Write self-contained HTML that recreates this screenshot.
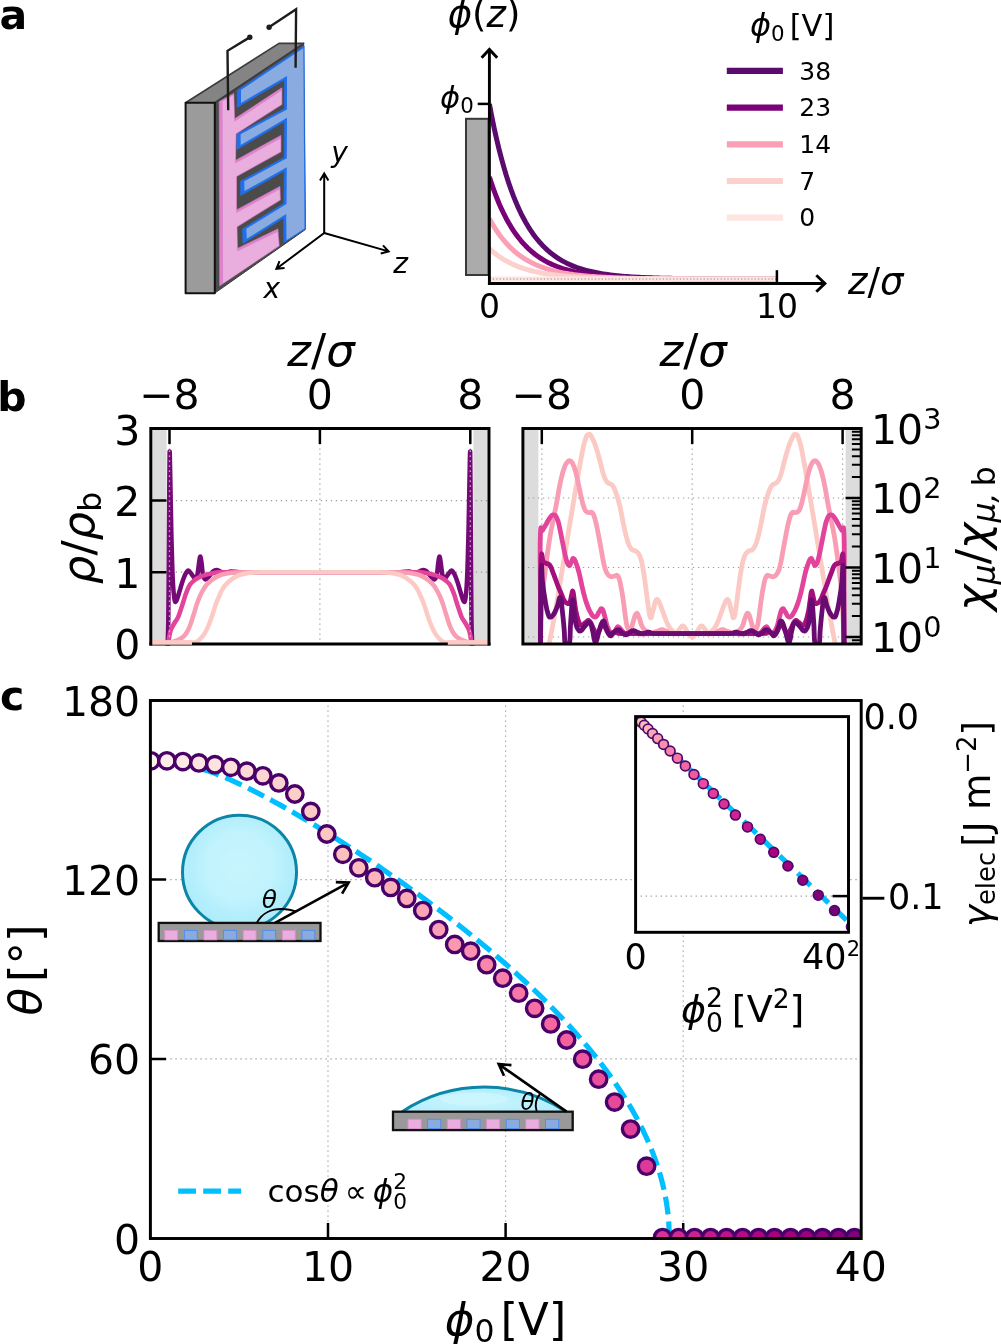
<!DOCTYPE html>
<html><head><meta charset="utf-8"><title>Electrowetting figure</title>
<style>
html,body{margin:0;padding:0;background:#fff;}
svg{display:block;font-family:'DejaVu Sans', 'Liberation Sans', sans-serif;}
svg text{fill:#000;}
</style></head><body>
<svg width="1001" height="1344" viewBox="0 0 1001 1344">
<rect x="0" y="0" width="1001" height="1344" fill="#ffffff"/>
<text x="-0.40" y="29.00" font-size="41" text-anchor="start" font-weight="bold">a</text>
<g stroke-linejoin="round">
<path d="M214.80,102.80L303.60,43.00L305.40,229.50L214.80,293.10Z" fill="#4b4b4b" stroke="#3a3a3a" stroke-width="1.0"/>
<path d="M237.20,90.40L304.20,45.80L305.40,228.90L283.90,242.50L283.60,217.90L243.00,243.40L242.50,228.90L283.90,203.50L284.20,170.90L240.70,195.50L240.50,181.20L284.20,157.50L284.40,121.50L236.90,149.60L236.80,134.20L284.40,108.80L284.40,79.80L237.20,107.40L237.20,90.40Z" fill="#2070ee" stroke="#2070ee" stroke-width="0.6"/>
<path d="M241.00,89.97L303.30,48.30L304.50,228.60L286.50,240.26L286.20,213.97L246.80,238.71L246.30,228.67L286.50,204.00L286.80,167.13L244.50,191.05L244.30,181.24L286.80,158.19L287.00,117.66L240.70,145.05L240.60,134.27L287.00,109.51L287.00,75.98L241.00,102.88Z" fill="#8aabe0"/>
<path d="M219.20,101.60L233.80,93.60L234.60,118.80L281.90,87.80L281.90,104.50L236.00,133.90L235.50,160.40L280.90,135.40L280.90,151.90L236.50,176.50L236.50,209.90L279.90,186.50L280.40,200.00L237.00,226.90L237.50,248.40L277.90,228.90L279.20,245.90L219.70,285.80Z" fill="#dd83cc" stroke="#dd83cc" stroke-width="0.6"/>
<path d="M222.60,101.34L233.50,95.20L234.30,121.80L281.50,90.80L281.50,104.20L235.70,133.60L235.20,163.40L280.50,138.40L280.50,151.60L236.20,176.20L236.20,212.90L279.50,189.50L280.00,199.70L236.70,226.60L237.20,251.40L277.50,231.90L278.80,245.60L223.10,283.20Z" fill="#e9aedd"/>
<path d="M185.60,102.80L279.00,43.40L303.60,43.40L214.80,102.80Z" fill="#848484" stroke="#3c3c3c" stroke-width="1.7"/>
<path d="M185.60,102.80L214.80,102.80L214.80,293.20L185.60,293.20Z" fill="#9b9b9b" stroke="#111" stroke-width="2.0"/>
</g>
<g stroke="#1c1c1c" stroke-width="2.4" fill="none" stroke-linejoin="miter">
<path d="M228.2,110.3 L227.5,50.8 L249.6,37.4"/>
<path d="M295.6,67.8 L296.1,9.2 L269.3,27"/>
</g>
<circle cx="249.8" cy="37.3" r="2.7" fill="#1c1c1c"/><circle cx="269.1" cy="27.2" r="2.7" fill="#1c1c1c"/>
<path d="M324.20,233.00L324.20,173.50M320.00,180.50L324.20,173.50L328.40,180.50" stroke="#000" stroke-width="2.0" fill="none" stroke-linejoin="miter" stroke-linecap="butt"/>
<path d="M324.20,233.00L388.60,251.40M383.02,245.44L388.60,251.40L380.72,253.52" stroke="#000" stroke-width="2.0" fill="none" stroke-linejoin="miter" stroke-linecap="butt"/>
<path d="M324.20,233.00L276.40,268.80M284.52,267.97L276.40,268.80L279.49,261.24" stroke="#000" stroke-width="2.0" fill="none" stroke-linejoin="miter" stroke-linecap="butt"/>
<text x="339.50" y="162.00" font-size="28" text-anchor="middle" font-style="italic">y</text>
<text x="400.50" y="273.00" font-size="28" text-anchor="middle" font-style="italic">z</text>
<text x="271.70" y="298.00" font-size="28" text-anchor="middle" font-style="italic">x</text>
<rect x="466" y="118.8" width="22.6" height="156.2" fill="#ababab" stroke="#383838" stroke-width="2"/>
<clipPath id="clipA"><rect x="488.79999999999995" y="90" width="320" height="200"/></clipPath>
<path d="M489.40,104.00L491.82,116.65L494.23,128.39L496.65,139.27L499.06,149.37L501.48,158.74L503.90,167.44L506.31,175.50L508.73,182.98L511.14,189.92L513.56,196.36L515.98,202.33L518.39,207.88L520.81,213.02L523.22,217.79L525.64,222.21L528.06,226.32L530.47,230.12L532.89,233.66L535.30,236.94L537.72,239.98L540.14,242.80L542.55,245.41L544.97,247.84L547.38,250.09L549.80,252.18L552.22,254.12L554.63,255.92L557.05,257.59L559.46,259.14L561.88,260.57L564.29,261.90L566.71,263.14L569.13,264.29L571.54,265.35L573.96,266.34L576.37,267.25L578.79,268.10L581.21,268.89L583.62,269.62L586.04,270.30L588.45,270.93L590.87,271.51L593.29,272.05L595.70,272.55L598.12,273.02L600.53,273.45L602.95,273.85L605.37,274.23L607.78,274.57L610.20,274.89L612.61,275.19L615.03,275.46L617.45,275.72L619.86,275.96L622.28,276.18L624.69,276.38L627.11,276.57L629.53,276.75L631.94,276.91L634.36,277.06L636.77,277.20L639.19,277.33L641.61,277.45L644.02,277.56L646.44,277.67L648.85,277.76L651.27,277.85L653.69,277.94L656.10,278.01L658.52,278.08L660.93,278.15L663.35,278.21L665.77,278.27L668.18,278.32L670.60,278.37L673.01,278.42L675.43,278.46L677.85,278.50L680.26,278.53L682.68,278.57L685.09,278.60L687.51,278.63L689.93,278.65L692.34,278.68L694.76,278.70L697.17,278.72L699.59,278.74L702.01,278.76L704.42,278.78L706.84,278.80L709.25,278.81L711.67,278.82L714.08,278.84L716.50,278.85L718.92,278.86L721.33,278.87L723.75,278.88L726.16,278.89L728.58,278.90L731.00,278.90L733.41,278.91L735.83,278.92L738.24,278.92L740.66,278.93L743.08,278.93L745.49,278.94L747.91,278.94L750.32,278.95L752.74,278.95L755.16,278.95L757.57,278.96L759.99,278.96L762.40,278.96L764.82,278.97L767.24,278.97L769.65,278.97L772.07,278.97L774.48,278.97L776.90,278.98" fill="none" stroke="#5b0a6e" stroke-width="5" stroke-linejoin="round" clip-path="url(#clipA)"/>
<path d="M489.40,177.00L491.82,184.37L494.23,191.21L496.65,197.56L499.06,203.45L501.48,208.91L503.90,213.97L506.31,218.67L508.73,223.03L511.14,227.08L513.56,230.83L515.98,234.31L518.39,237.54L520.81,240.54L523.22,243.32L525.64,245.90L528.06,248.29L530.47,250.51L532.89,252.57L535.30,254.48L537.72,256.25L540.14,257.90L542.55,259.42L544.97,260.84L547.38,262.15L549.80,263.37L552.22,264.50L554.63,265.55L557.05,266.52L559.46,267.42L561.88,268.26L564.29,269.04L566.71,269.76L569.13,270.42L571.54,271.04L573.96,271.62L576.37,272.15L578.79,272.65L581.21,273.11L583.62,273.53L586.04,273.93L588.45,274.29L590.87,274.63L593.29,274.95L595.70,275.24L598.12,275.51L600.53,275.77L602.95,276.00L605.37,276.22L607.78,276.42L610.20,276.60L612.61,276.78L615.03,276.94L617.45,277.09L619.86,277.23L622.28,277.35L624.69,277.47L627.11,277.58L629.53,277.69L631.94,277.78L634.36,277.87L636.77,277.95L639.19,278.03L641.61,278.10L644.02,278.16L646.44,278.22L648.85,278.28L651.27,278.33L653.69,278.38L656.10,278.42L658.52,278.47L660.93,278.50L663.35,278.54L665.77,278.57L668.18,278.60L670.60,278.63L673.01,278.66L675.43,278.68L677.85,278.71L680.26,278.73L682.68,278.75L685.09,278.77L687.51,278.78L689.93,278.80L692.34,278.81L694.76,278.83L697.17,278.84L699.59,278.85L702.01,278.86L704.42,278.87L706.84,278.88L709.25,278.89L711.67,278.90L714.08,278.90L716.50,278.91L718.92,278.92L721.33,278.92L723.75,278.93L726.16,278.93L728.58,278.94L731.00,278.94L733.41,278.95L735.83,278.95L738.24,278.96L740.66,278.96L743.08,278.96L745.49,278.96L747.91,278.97L750.32,278.97L752.74,278.97L755.16,278.97L757.57,278.98L759.99,278.98L762.40,278.98L764.82,278.98L767.24,278.98L769.65,278.98L772.07,278.98L774.48,278.99L776.90,278.99" fill="none" stroke="#7a0177" stroke-width="5" stroke-linejoin="round" clip-path="url(#clipA)"/>
<path d="M489.40,218.60L491.82,222.97L494.23,227.02L496.65,230.77L499.06,234.26L501.48,237.49L503.90,240.49L506.31,243.28L508.73,245.86L511.14,248.26L513.56,250.48L515.98,252.54L518.39,254.45L520.81,256.23L523.22,257.87L525.64,259.40L528.06,260.82L530.47,262.13L532.89,263.35L535.30,264.48L537.72,265.53L540.14,266.50L542.55,267.41L544.97,268.25L547.38,269.02L549.80,269.74L552.22,270.41L554.63,271.03L557.05,271.61L559.46,272.14L561.88,272.64L564.29,273.10L566.71,273.53L569.13,273.92L571.54,274.29L573.96,274.63L576.37,274.95L578.79,275.24L581.21,275.51L583.62,275.76L586.04,276.00L588.45,276.21L590.87,276.41L593.29,276.60L595.70,276.78L598.12,276.94L600.53,277.09L602.95,277.22L605.37,277.35L607.78,277.47L610.20,277.58L612.61,277.68L615.03,277.78L617.45,277.87L619.86,277.95L622.28,278.03L624.69,278.10L627.11,278.16L629.53,278.22L631.94,278.28L634.36,278.33L636.77,278.38L639.19,278.42L641.61,278.47L644.02,278.50L646.44,278.54L648.85,278.57L651.27,278.60L653.69,278.63L656.10,278.66L658.52,278.68L660.93,278.71L663.35,278.73L665.77,278.75L668.18,278.77L670.60,278.78L673.01,278.80L675.43,278.81L677.85,278.83L680.26,278.84L682.68,278.85L685.09,278.86L687.51,278.87L689.93,278.88L692.34,278.89L694.76,278.90L697.17,278.90L699.59,278.91L702.01,278.92L704.42,278.92L706.84,278.93L709.25,278.93L711.67,278.94L714.08,278.94L716.50,278.95L718.92,278.95L721.33,278.96L723.75,278.96L726.16,278.96L728.58,278.96L731.00,278.97L733.41,278.97L735.83,278.97L738.24,278.97L740.66,278.98L743.08,278.98L745.49,278.98L747.91,278.98L750.32,278.98L752.74,278.98L755.16,278.98L757.57,278.99L759.99,278.99L762.40,278.99L764.82,278.99L767.24,278.99L769.65,278.99L772.07,278.99L774.48,278.99L776.90,278.99" fill="none" stroke="#fa9fb5" stroke-width="5" stroke-linejoin="round" clip-path="url(#clipA)"/>
<path d="M489.40,248.60L491.82,250.80L494.23,252.84L496.65,254.73L499.06,256.48L501.48,258.11L503.90,259.62L506.31,261.02L508.73,262.32L511.14,263.53L513.56,264.64L515.98,265.68L518.39,266.64L520.81,267.54L523.22,268.37L525.64,269.14L528.06,269.85L530.47,270.51L532.89,271.12L535.30,271.69L537.72,272.22L540.14,272.71L542.55,273.17L544.97,273.59L547.38,273.98L549.80,274.34L552.22,274.68L554.63,274.99L557.05,275.28L559.46,275.55L561.88,275.80L564.29,276.03L566.71,276.24L569.13,276.44L571.54,276.63L573.96,276.80L576.37,276.96L578.79,277.11L581.21,277.24L583.62,277.37L586.04,277.49L588.45,277.60L590.87,277.70L593.29,277.79L595.70,277.88L598.12,277.96L600.53,278.04L602.95,278.11L605.37,278.17L607.78,278.23L610.20,278.29L612.61,278.34L615.03,278.39L617.45,278.43L619.86,278.47L622.28,278.51L624.69,278.54L627.11,278.58L629.53,278.61L631.94,278.64L634.36,278.66L636.77,278.69L639.19,278.71L641.61,278.73L644.02,278.75L646.44,278.77L648.85,278.79L651.27,278.80L653.69,278.82L656.10,278.83L658.52,278.84L660.93,278.85L663.35,278.86L665.77,278.87L668.18,278.88L670.60,278.89L673.01,278.90L675.43,278.91L677.85,278.91L680.26,278.92L682.68,278.92L685.09,278.93L687.51,278.94L689.93,278.94L692.34,278.94L694.76,278.95L697.17,278.95L699.59,278.96L702.01,278.96L704.42,278.96L706.84,278.96L709.25,278.97L711.67,278.97L714.08,278.97L716.50,278.97L718.92,278.98L721.33,278.98L723.75,278.98L726.16,278.98L728.58,278.98L731.00,278.98L733.41,278.98L735.83,278.99L738.24,278.99L740.66,278.99L743.08,278.99L745.49,278.99L747.91,278.99L750.32,278.99L752.74,278.99L755.16,278.99L757.57,278.99L759.99,278.99L762.40,278.99L764.82,278.99L767.24,278.99L769.65,278.99L772.07,279.00L774.48,279.00L776.90,279.00" fill="none" stroke="#fcd0cc" stroke-width="5" stroke-linejoin="round" clip-path="url(#clipA)"/>
<path d="M489.40,279.00L491.82,279.00L494.23,279.00L496.65,279.00L499.06,279.00L501.48,279.00L503.90,279.00L506.31,279.00L508.73,279.00L511.14,279.00L513.56,279.00L515.98,279.00L518.39,279.00L520.81,279.00L523.22,279.00L525.64,279.00L528.06,279.00L530.47,279.00L532.89,279.00L535.30,279.00L537.72,279.00L540.14,279.00L542.55,279.00L544.97,279.00L547.38,279.00L549.80,279.00L552.22,279.00L554.63,279.00L557.05,279.00L559.46,279.00L561.88,279.00L564.29,279.00L566.71,279.00L569.13,279.00L571.54,279.00L573.96,279.00L576.37,279.00L578.79,279.00L581.21,279.00L583.62,279.00L586.04,279.00L588.45,279.00L590.87,279.00L593.29,279.00L595.70,279.00L598.12,279.00L600.53,279.00L602.95,279.00L605.37,279.00L607.78,279.00L610.20,279.00L612.61,279.00L615.03,279.00L617.45,279.00L619.86,279.00L622.28,279.00L624.69,279.00L627.11,279.00L629.53,279.00L631.94,279.00L634.36,279.00L636.77,279.00L639.19,279.00L641.61,279.00L644.02,279.00L646.44,279.00L648.85,279.00L651.27,279.00L653.69,279.00L656.10,279.00L658.52,279.00L660.93,279.00L663.35,279.00L665.77,279.00L668.18,279.00L670.60,279.00L673.01,279.00L675.43,279.00L677.85,279.00L680.26,279.00L682.68,279.00L685.09,279.00L687.51,279.00L689.93,279.00L692.34,279.00L694.76,279.00L697.17,279.00L699.59,279.00L702.01,279.00L704.42,279.00L706.84,279.00L709.25,279.00L711.67,279.00L714.08,279.00L716.50,279.00L718.92,279.00L721.33,279.00L723.75,279.00L726.16,279.00L728.58,279.00L731.00,279.00L733.41,279.00L735.83,279.00L738.24,279.00L740.66,279.00L743.08,279.00L745.49,279.00L747.91,279.00L750.32,279.00L752.74,279.00L755.16,279.00L757.57,279.00L759.99,279.00L762.40,279.00L764.82,279.00L767.24,279.00L769.65,279.00L772.07,279.00L774.48,279.00L776.90,279.00" fill="none" stroke="#fde5e1" stroke-width="5" stroke-linejoin="round" clip-path="url(#clipA)"/>
<path d="M489.4,279.0L776.9,279.0" stroke="#b9a9ad" stroke-width="1.3" stroke-dasharray="1.3,2.1" fill="none"/>
<path d="M489.40,284.90L489.40,49.40M481.60,57.70L489.40,49.40L497.20,57.70" stroke="#000" stroke-width="2.9" fill="none" stroke-linejoin="miter" stroke-linecap="butt"/>
<path d="M487.95,283.50L824.90,283.50M816.30,275.30L824.90,283.50L816.30,291.70" stroke="#000" stroke-width="2.9" fill="none" stroke-linejoin="miter" stroke-linecap="butt"/>
<path d="M477.7,103.9L489.4,103.9" stroke="#000" stroke-width="2.5"/>
<path d="M776.90,283.5L776.90,270.2" stroke="#000" stroke-width="2.5"/>
<text x="489.40" y="317.50" font-size="33" text-anchor="middle" >0</text>
<text x="776.90" y="317.50" font-size="33" text-anchor="middle" >10</text>
<text x="848.00" y="294.00" font-size="37" text-anchor="start" ><tspan font-style="italic">z</tspan>/<tspan font-style="italic">σ</tspan></text>
<text x="484.00" y="27.00" font-size="37" text-anchor="middle" ><tspan font-style="italic">ϕ</tspan>(<tspan font-style="italic">z</tspan>)</text>
<text x="440.00" y="108.20" font-size="30.5" text-anchor="start" ><tspan font-style="italic">ϕ</tspan><tspan font-size="21.35" dy="4.30">0</tspan><tspan dy="-4.30" font-size="30.5">&#8203;</tspan></text>
<text x="750.00" y="35.80" font-size="30.5" text-anchor="start" ><tspan font-style="italic" font-size="32">ϕ</tspan><tspan font-size="21.35" dy="4.88">0</tspan><tspan dy="-4.88" font-size="30.5">&#8203;</tspan><tspan dx="5">[V]</tspan></text>
<path d="M726.8,70.90L782.9,70.90" stroke="#5b0a6e" stroke-width="6.2"/>
<text x="799.30" y="79.60" font-size="25" text-anchor="start" >38</text>
<path d="M726.8,107.60L782.9,107.60" stroke="#7a0177" stroke-width="6.2"/>
<text x="799.30" y="116.30" font-size="25" text-anchor="start" >23</text>
<path d="M726.8,144.30L782.9,144.30" stroke="#fa9fb5" stroke-width="6.2"/>
<text x="799.30" y="153.00" font-size="25" text-anchor="start" >14</text>
<path d="M726.8,181.00L782.9,181.00" stroke="#fcd0cc" stroke-width="6.2"/>
<text x="799.30" y="189.70" font-size="25" text-anchor="start" >7</text>
<path d="M726.8,217.70L782.9,217.70" stroke="#fde5e1" stroke-width="6.2"/>
<text x="799.30" y="226.40" font-size="25" text-anchor="start" >0</text>
<text x="-2.70" y="410.60" font-size="41" text-anchor="start" font-weight="bold">b</text>
<clipPath id="clipBL"><rect x="150.8" y="428.5" width="338.2" height="217.0"/></clipPath>
<rect x="150.8" y="428.5" width="15.799999999999983" height="215.5" fill="#dcdcdc"/>
<rect x="473.4" y="428.5" width="15.600000000000023" height="215.5" fill="#dcdcdc"/>
<path d="M169.50,428.5L169.50,644.0" stroke="#9c9c9c" stroke-width="1.2" stroke-dasharray="1.3,3.7" fill="none"/>
<path d="M319.90,428.5L319.90,644.0" stroke="#9c9c9c" stroke-width="1.2" stroke-dasharray="1.3,3.7" fill="none"/>
<path d="M470.30,428.5L470.30,644.0" stroke="#9c9c9c" stroke-width="1.2" stroke-dasharray="1.3,3.7" fill="none"/>
<path d="M150.8,572.20L489.0,572.20" stroke="#9c9c9c" stroke-width="1.2" stroke-dasharray="1.3,3.7" fill="none"/>
<path d="M150.8,500.60L489.0,500.60" stroke="#9c9c9c" stroke-width="1.2" stroke-dasharray="1.3,3.7" fill="none"/>
<g clip-path="url(#clipBL)" fill="none" stroke-linejoin="round" stroke-linecap="butt">
<path d="M167.60,646.00C167.72,641.67 168.10,634.33 168.30,620.00C168.50,605.67 168.65,580.00 168.80,560.00C168.95,540.00 169.07,518.00 169.20,500.00C169.33,482.00 169.42,455.67 169.60,452.00C169.78,448.33 170.00,464.17 170.30,478.00C170.60,491.83 170.98,518.00 171.40,535.00C171.82,552.00 172.27,569.17 172.80,580.00C173.33,590.83 173.98,596.58 174.60,600.00C175.22,603.42 175.77,601.67 176.50,600.50C177.23,599.33 178.08,595.92 179.00,593.00C179.92,590.08 181.00,586.00 182.00,583.00C183.00,580.00 183.97,577.08 185.00,575.00C186.03,572.92 187.12,570.67 188.20,570.50C189.28,570.33 190.40,572.67 191.50,574.00C192.60,575.33 193.83,578.33 194.80,578.50C195.77,578.67 196.60,577.58 197.30,575.00C198.00,572.42 198.50,566.08 199.00,563.00C199.50,559.92 199.87,556.50 200.30,556.50C200.73,556.50 201.15,559.92 201.60,563.00C202.05,566.08 202.35,572.25 203.00,575.00C203.65,577.75 204.50,579.25 205.50,579.50C206.50,579.75 207.75,577.83 209.00,576.50C210.25,575.17 211.75,572.58 213.00,571.50C214.25,570.42 215.25,570.00 216.50,570.00C217.75,570.00 219.08,571.00 220.50,571.50C221.92,572.00 223.25,572.98 225.00,573.00C226.75,573.02 228.50,571.72 231.00,571.60C233.50,571.48 235.17,572.18 240.00,572.30C244.83,572.42 246.68,572.30 260.00,572.30C273.32,572.30 309.92,572.30 319.90,572.30C329.88,572.30 309.92,572.30 319.90,572.30C329.88,572.30 366.48,572.30 379.80,572.30C393.12,572.30 394.97,572.42 399.80,572.30C404.63,572.18 406.30,571.48 408.80,571.60C411.30,571.72 413.05,573.02 414.80,573.00C416.55,572.98 417.88,572.00 419.30,571.50C420.72,571.00 422.05,570.00 423.30,570.00C424.55,570.00 425.55,570.42 426.80,571.50C428.05,572.58 429.55,575.17 430.80,576.50C432.05,577.83 433.30,579.75 434.30,579.50C435.30,579.25 436.15,577.75 436.80,575.00C437.45,572.25 437.75,566.08 438.20,563.00C438.65,559.92 439.07,556.50 439.50,556.50C439.93,556.50 440.30,559.92 440.80,563.00C441.30,566.08 441.80,572.42 442.50,575.00C443.20,577.58 444.03,578.67 445.00,578.50C445.97,578.33 447.20,575.33 448.30,574.00C449.40,572.67 450.52,570.33 451.60,570.50C452.68,570.67 453.77,572.92 454.80,575.00C455.83,577.08 456.80,580.00 457.80,583.00C458.80,586.00 459.88,590.08 460.80,593.00C461.72,595.92 462.57,599.33 463.30,600.50C464.03,601.67 464.58,603.42 465.20,600.00C465.82,596.58 466.47,590.83 467.00,580.00C467.53,569.17 467.98,552.00 468.40,535.00C468.82,518.00 469.20,491.83 469.50,478.00C469.80,464.17 470.02,448.33 470.20,452.00C470.38,455.67 470.47,482.00 470.60,500.00C470.73,518.00 470.85,540.00 471.00,560.00C471.15,580.00 471.30,605.67 471.50,620.00C471.70,634.33 472.08,641.67 472.20,646.00" stroke="#750a76" stroke-width="4.5"/>
<path d="M167.80,646.00C167.93,645.17 168.27,643.00 168.60,641.00C168.93,639.00 169.35,636.03 169.80,634.00C170.25,631.97 170.52,630.63 171.30,628.80C172.08,626.97 173.38,624.90 174.50,623.00C175.62,621.10 176.75,620.23 178.00,617.40C179.25,614.57 180.73,609.80 182.00,606.00C183.27,602.20 184.60,597.52 185.60,594.60C186.60,591.68 187.22,590.23 188.00,588.50C188.78,586.77 189.38,585.45 190.30,584.20C191.22,582.95 192.40,581.95 193.50,581.00C194.60,580.05 195.65,579.25 196.90,578.50C198.15,577.75 199.42,577.13 201.00,576.50C202.58,575.87 204.57,575.22 206.40,574.70C208.23,574.18 209.78,573.80 212.00,573.40C214.22,573.00 216.52,572.48 219.70,572.30C222.88,572.12 224.38,572.30 231.10,572.30C237.82,572.30 245.20,572.30 260.00,572.30C274.80,572.30 309.92,572.30 319.90,572.30C329.88,572.30 309.92,572.30 319.90,572.30C329.88,572.30 365.00,572.30 379.80,572.30C394.60,572.30 401.98,572.30 408.70,572.30C415.42,572.30 416.92,572.12 420.10,572.30C423.28,572.48 425.58,573.00 427.80,573.40C430.02,573.80 431.57,574.18 433.40,574.70C435.23,575.22 437.22,575.87 438.80,576.50C440.38,577.13 441.65,577.75 442.90,578.50C444.15,579.25 445.20,580.05 446.30,581.00C447.40,581.95 448.58,582.95 449.50,584.20C450.42,585.45 451.02,586.77 451.80,588.50C452.58,590.23 453.20,591.68 454.20,594.60C455.20,597.52 456.53,602.20 457.80,606.00C459.07,609.80 460.55,614.57 461.80,617.40C463.05,620.23 464.18,621.10 465.30,623.00C466.42,624.90 467.72,626.97 468.50,628.80C469.28,630.63 469.55,631.97 470.00,634.00C470.45,636.03 470.87,639.00 471.20,641.00C471.53,643.00 471.87,645.17 472.00,646.00" stroke="#e2439b" stroke-width="4.5"/>
<path d="M148.80,642.80C152.00,642.80 163.77,643.05 168.00,642.80C172.23,642.55 172.37,641.85 174.20,641.30C176.03,640.75 177.42,640.32 179.00,639.50C180.58,638.68 182.37,637.65 183.70,636.40C185.03,635.15 185.90,633.90 187.00,632.00C188.10,630.10 189.22,627.83 190.30,625.00C191.38,622.17 192.40,618.48 193.50,615.00C194.60,611.52 195.85,607.18 196.90,604.10C197.95,601.02 198.85,598.72 199.80,596.50C200.75,594.28 201.57,592.63 202.60,590.80C203.63,588.97 204.73,587.08 206.00,585.50C207.27,583.92 208.62,582.63 210.20,581.30C211.78,579.97 213.60,578.60 215.50,577.50C217.40,576.40 219.52,575.42 221.60,574.70C223.68,573.98 225.78,573.57 228.00,573.20C230.22,572.83 232.07,572.65 234.90,572.50C237.73,572.35 239.15,572.33 245.00,572.30C250.85,572.27 257.52,572.30 270.00,572.30C282.48,572.30 311.58,572.30 319.90,572.30C328.22,572.30 311.58,572.30 319.90,572.30C328.22,572.30 357.32,572.30 369.80,572.30C382.28,572.30 388.95,572.27 394.80,572.30C400.65,572.33 402.07,572.35 404.90,572.50C407.73,572.65 409.58,572.83 411.80,573.20C414.02,573.57 416.12,573.98 418.20,574.70C420.28,575.42 422.40,576.40 424.30,577.50C426.20,578.60 428.02,579.97 429.60,581.30C431.18,582.63 432.53,583.92 433.80,585.50C435.07,587.08 436.17,588.97 437.20,590.80C438.23,592.63 439.05,594.28 440.00,596.50C440.95,598.72 441.85,601.02 442.90,604.10C443.95,607.18 445.20,611.52 446.30,615.00C447.40,618.48 448.42,622.17 449.50,625.00C450.58,627.83 451.70,630.10 452.80,632.00C453.90,633.90 454.77,635.15 456.10,636.40C457.43,637.65 459.22,638.68 460.80,639.50C462.38,640.32 463.77,640.75 465.60,641.30C467.43,641.85 467.57,642.55 471.80,642.80C476.03,643.05 487.80,642.80 491.00,642.80" stroke="#f99db4" stroke-width="4.5"/>
<path d="M148.80,642.60C155.67,642.60 181.97,642.78 190.00,642.60C198.03,642.42 194.90,642.53 197.00,641.50C199.10,640.47 201.02,638.32 202.60,636.40C204.18,634.48 205.23,632.53 206.50,630.00C207.77,627.47 209.12,624.03 210.20,621.20C211.28,618.37 212.05,615.85 213.00,613.00C213.95,610.15 214.93,606.77 215.90,604.10C216.87,601.43 217.85,599.22 218.80,597.00C219.75,594.78 220.57,592.72 221.60,590.80C222.63,588.88 223.73,587.08 225.00,585.50C226.27,583.92 227.62,582.63 229.20,581.30C230.78,579.97 232.60,578.60 234.50,577.50C236.40,576.40 238.52,575.42 240.60,574.70C242.68,573.98 244.78,573.57 247.00,573.20C249.22,572.83 251.40,572.65 253.90,572.50C256.40,572.35 255.98,572.33 262.00,572.30C268.02,572.27 280.35,572.30 290.00,572.30C299.65,572.30 314.92,572.30 319.90,572.30C324.88,572.30 314.92,572.30 319.90,572.30C324.88,572.30 340.15,572.30 349.80,572.30C359.45,572.30 371.78,572.27 377.80,572.30C383.82,572.33 383.40,572.35 385.90,572.50C388.40,572.65 390.58,572.83 392.80,573.20C395.02,573.57 397.12,573.98 399.20,574.70C401.28,575.42 403.40,576.40 405.30,577.50C407.20,578.60 409.02,579.97 410.60,581.30C412.18,582.63 413.53,583.92 414.80,585.50C416.07,587.08 417.17,588.88 418.20,590.80C419.23,592.72 420.05,594.78 421.00,597.00C421.95,599.22 422.93,601.43 423.90,604.10C424.87,606.77 425.85,610.15 426.80,613.00C427.75,615.85 428.52,618.37 429.60,621.20C430.68,624.03 432.03,627.47 433.30,630.00C434.57,632.53 435.62,634.48 437.20,636.40C438.78,638.32 440.70,640.47 442.80,641.50C444.90,642.53 441.77,642.42 449.80,642.60C457.83,642.78 484.13,642.60 491.00,642.60" stroke="#fccac5" stroke-width="4.5"/>
<path d="M169.50,450.48L169.50,644.0" stroke="#dccde0" stroke-width="1.3" stroke-dasharray="1.3,3.7" fill="none"/>
<path d="M470.30,450.48L470.30,644.0" stroke="#dccde0" stroke-width="1.3" stroke-dasharray="1.3,3.7" fill="none"/>
</g>
<path d="M150.8,644.0L489.0,644.0" stroke="#000" stroke-width="2.95" stroke-linecap="square"/>
<path d="M149.8,642.6L192,642.6M447.79999999999995,642.6L490.0,642.6" stroke="#fccac5" stroke-width="4.5"/>
<path d="M150.8,644.0L150.8,428.5L489.0,428.5L489.0,644.0" stroke="#000" stroke-width="2.95" fill="none" stroke-linecap="square"/>
<path d="M169.50,428.5L169.50,444.1M319.90,428.5L319.90,444.1M470.30,428.5L470.30,444.1M150.8,572.20L166.4,572.20M150.8,500.60L166.4,500.60" stroke="#000" stroke-width="2.5"/>
<text x="169.50" y="408.70" font-size="41" text-anchor="middle" >−8</text>
<text x="319.90" y="408.70" font-size="41" text-anchor="middle" >0</text>
<text x="470.30" y="408.70" font-size="41" text-anchor="middle" >8</text>
<text x="140.40" y="659.30" font-size="41" text-anchor="end" >0</text>
<text x="140.40" y="587.70" font-size="41" text-anchor="end" >1</text>
<text x="140.40" y="516.10" font-size="41" text-anchor="end" >2</text>
<text x="140.40" y="444.50" font-size="41" text-anchor="end" >3</text>
<text x="321.00" y="366.20" font-size="45" text-anchor="middle" ><tspan font-style="italic">z</tspan>/<tspan font-style="italic">σ</tspan></text>
<text transform="translate(93.6,538) rotate(-90)" font-size="45" text-anchor="middle"><tspan font-style="italic">ρ</tspan>/<tspan font-style="italic">ρ</tspan><tspan font-size="31.50" dy="7.20">b</tspan><tspan dy="-7.20" font-size="45">&#8203;</tspan></text>
<clipPath id="clipBR"><rect x="522.9" y="428.5" width="338.30000000000007" height="215.5"/></clipPath>
<rect x="522.9" y="428.5" width="15.5" height="215.5" fill="#dcdcdc"/>
<rect x="845.6" y="428.5" width="15.600000000000023" height="215.5" fill="#dcdcdc"/>
<path d="M541.80,428.5L541.80,644.0" stroke="#9c9c9c" stroke-width="1.2" stroke-dasharray="1.3,3.7" fill="none"/>
<path d="M692.20,428.5L692.20,644.0" stroke="#9c9c9c" stroke-width="1.2" stroke-dasharray="1.3,3.7" fill="none"/>
<path d="M842.60,428.5L842.60,644.0" stroke="#9c9c9c" stroke-width="1.2" stroke-dasharray="1.3,3.7" fill="none"/>
<path d="M522.9,637.00L861.2,637.00" stroke="#9c9c9c" stroke-width="1.2" stroke-dasharray="1.3,3.7" fill="none"/>
<path d="M522.9,567.50L861.2,567.50" stroke="#9c9c9c" stroke-width="1.2" stroke-dasharray="1.3,3.7" fill="none"/>
<path d="M522.9,498.00L861.2,498.00" stroke="#9c9c9c" stroke-width="1.2" stroke-dasharray="1.3,3.7" fill="none"/>
<g clip-path="url(#clipBR)" fill="none" stroke-linejoin="round">
<path d="M548.91,644.94C550.69,635.58 551.26,634.38 555.56,609.83C559.86,585.27 559.99,583.25 565.05,552.88C570.11,522.51 570.24,521.24 574.54,495.93C578.84,470.62 578.40,472.64 581.18,457.97C583.97,443.29 582.96,447.21 584.98,440.88C587.01,434.55 586.75,434.74 588.78,434.24C590.80,433.73 590.55,435.19 592.57,438.98C594.60,442.78 594.35,442.40 596.37,448.47C598.40,454.55 598.14,454.42 600.17,461.76C602.19,469.10 601.94,470.43 603.96,476.00C605.99,481.57 605.48,480.11 607.76,482.64C610.04,485.17 610.23,482.45 612.51,485.49C614.78,488.53 614.28,488.21 616.30,494.03C618.33,499.85 618.07,498.71 620.10,507.32C622.12,515.93 621.87,517.19 623.90,526.30C625.92,535.41 625.67,535.41 627.69,541.49C629.72,547.56 629.21,546.45 631.49,549.08C633.77,551.71 633.96,549.33 636.23,551.36C638.51,553.38 638.26,552.22 640.03,556.67C641.80,561.13 641.36,559.96 642.88,568.06C644.40,576.16 644.31,576.92 645.73,587.05C647.14,597.17 646.93,597.93 648.19,606.03C649.46,614.13 649.26,615.90 650.47,617.42C651.69,618.94 651.48,615.77 652.75,611.72C654.01,607.67 654.05,605.52 655.22,602.23C656.38,598.94 655.95,599.13 657.11,599.38C658.28,599.64 658.06,599.89 659.58,603.18C661.10,606.47 660.68,606.16 662.81,611.72C664.94,617.29 665.02,619.00 667.56,624.06C670.09,629.12 670.02,628.43 672.30,630.71C674.58,632.98 674.07,633.11 676.10,632.60C678.12,632.10 678.12,630.58 679.89,628.81C681.67,627.04 681.22,625.96 682.74,625.96C684.26,625.96 683.82,626.28 685.59,628.81C687.36,631.34 687.62,633.38 689.38,635.45C691.15,637.53 691.44,636.29 692.19,636.59C692.95,636.89 691.45,636.89 692.21,636.59C692.96,636.29 693.25,637.53 695.02,635.45C696.78,633.38 697.04,631.34 698.81,628.81C700.58,626.28 700.14,625.96 701.66,625.96C703.18,625.96 702.73,627.04 704.51,628.81C706.28,630.58 706.28,632.10 708.30,632.60C710.33,633.11 709.82,632.98 712.10,630.71C714.38,628.43 714.31,629.12 716.84,624.06C719.38,619.00 719.46,617.29 721.59,611.72C723.72,606.16 723.30,606.47 724.82,603.18C726.34,599.89 726.12,599.64 727.29,599.38C728.45,599.13 728.02,598.94 729.18,602.23C730.35,605.52 730.39,607.67 731.65,611.72C732.92,615.77 732.71,618.94 733.93,617.42C735.14,615.90 734.94,614.13 736.21,606.03C737.47,597.93 737.26,597.17 738.67,587.05C740.09,576.92 740.00,576.16 741.52,568.06C743.04,559.96 742.60,561.13 744.37,556.67C746.14,552.22 745.89,553.38 748.17,551.36C750.44,549.33 750.63,551.71 752.91,549.08C755.19,546.45 754.68,547.56 756.71,541.49C758.73,535.41 758.48,535.41 760.50,526.30C762.53,517.19 762.28,515.93 764.30,507.32C766.33,498.71 766.07,499.85 768.10,494.03C770.12,488.21 769.62,488.53 771.89,485.49C774.17,482.45 774.36,485.17 776.64,482.64C778.92,480.11 778.41,481.57 780.44,476.00C782.46,470.43 782.21,469.10 784.23,461.76C786.26,454.42 786.00,454.55 788.03,448.47C790.05,442.40 789.80,442.78 791.83,438.98C793.85,435.19 793.60,433.73 795.62,434.24C797.65,434.74 797.39,434.55 799.42,440.88C801.44,447.21 800.43,443.29 803.22,457.97C806.00,472.64 805.56,470.62 809.86,495.93C814.16,521.24 814.29,522.51 819.35,552.88C824.41,583.25 824.54,585.27 828.84,609.83C833.14,634.38 833.71,635.58 835.49,644.94" stroke="#fccac5" stroke-width="4.8"/>
<path d="M540.37,644.94C540.88,633.05 541.00,619.82 542.27,600.33C543.54,580.85 543.35,587.05 545.12,571.86C546.89,556.67 546.89,556.55 548.91,543.39C550.94,530.23 550.69,533.14 552.71,522.51C554.74,511.88 554.48,514.15 556.51,503.52C558.53,492.89 558.28,492.01 560.30,482.64C562.33,473.28 562.33,473.72 564.10,468.41C565.87,463.09 565.43,464.74 566.95,462.71C568.47,460.69 568.28,460.56 569.79,460.81C571.31,461.07 571.12,460.88 572.64,463.66C574.16,466.44 573.97,465.94 575.49,471.25C577.01,476.57 576.82,476.76 578.34,483.59C579.86,490.43 579.77,490.80 581.18,496.88C582.60,502.95 582.39,502.57 583.65,506.37C584.92,510.17 584.41,509.45 585.93,511.12C587.45,512.79 587.58,512.13 589.35,512.63C591.12,513.14 590.95,510.89 592.57,513.01C594.19,515.14 593.90,515.04 595.42,520.61C596.94,526.18 596.75,526.30 598.27,533.90C599.79,541.49 599.60,540.98 601.12,549.08C602.63,557.18 602.44,557.94 603.96,564.27C605.48,570.59 605.04,569.52 606.81,572.81C608.58,576.10 608.58,575.75 610.61,576.61C612.63,577.47 612.38,576.04 614.40,576.04C616.43,576.04 616.43,573.67 618.20,576.61C619.97,579.54 619.63,580.21 621.05,587.05C622.47,593.88 622.25,593.63 623.52,602.23C624.78,610.84 624.68,612.48 625.79,619.32C626.91,626.15 626.43,625.07 627.69,627.86C628.96,630.64 629.02,631.53 630.54,629.76C632.06,627.99 631.87,625.52 633.39,621.21C634.91,616.91 634.72,614.63 636.23,613.62C637.75,612.61 637.56,614.13 639.08,617.42C640.60,620.71 640.16,622.42 641.93,625.96C643.70,629.50 643.45,628.93 645.73,630.71C648.00,632.48 647.69,632.35 650.47,632.60C653.25,632.86 653.13,632.41 656.17,631.66C659.20,630.90 659.33,629.91 661.86,629.76C664.39,629.61 663.13,630.07 665.66,631.09C668.19,632.10 667.30,632.90 671.35,633.55C675.40,634.21 675.28,633.55 680.84,633.55C686.40,633.55 689.16,633.55 692.19,633.55C695.22,633.55 689.18,633.55 692.21,633.55C695.24,633.55 698.00,633.55 703.56,633.55C709.12,633.55 709.00,634.21 713.05,633.55C717.10,632.90 716.21,632.10 718.74,631.09C721.27,630.07 720.01,629.61 722.54,629.76C725.07,629.91 725.20,630.90 728.23,631.66C731.27,632.41 731.15,632.86 733.93,632.60C736.71,632.35 736.40,632.48 738.67,630.71C740.95,628.93 740.70,629.50 742.47,625.96C744.24,622.42 743.80,620.71 745.32,617.42C746.84,614.13 746.65,612.61 748.17,613.62C749.68,614.63 749.49,616.91 751.01,621.21C752.53,625.52 752.34,627.99 753.86,629.76C755.38,631.53 755.44,630.64 756.71,627.86C757.97,625.07 757.49,626.15 758.61,619.32C759.72,612.48 759.62,610.84 760.88,602.23C762.15,593.63 761.93,593.88 763.35,587.05C764.77,580.21 764.43,579.54 766.20,576.61C767.97,573.67 767.97,576.04 770.00,576.04C772.02,576.04 771.77,577.47 773.79,576.61C775.82,575.75 775.82,576.10 777.59,572.81C779.36,569.52 778.92,570.59 780.44,564.27C781.96,557.94 781.77,557.18 783.28,549.08C784.80,540.98 784.61,541.49 786.13,533.90C787.65,526.30 787.46,526.18 788.98,520.61C790.50,515.04 790.21,515.14 791.83,513.01C793.45,510.89 793.28,513.14 795.05,512.63C796.82,512.13 796.95,512.79 798.47,511.12C799.99,509.45 799.48,510.17 800.75,506.37C802.01,502.57 801.80,502.95 803.22,496.88C804.63,490.80 804.54,490.43 806.06,483.59C807.58,476.76 807.39,476.57 808.91,471.25C810.43,465.94 810.24,466.44 811.76,463.66C813.28,460.88 813.09,461.07 814.61,460.81C816.12,460.56 815.93,460.69 817.45,462.71C818.97,464.74 818.53,463.09 820.30,468.41C822.07,473.72 822.07,473.28 824.10,482.64C826.12,492.01 825.87,492.89 827.89,503.52C829.92,514.15 829.66,511.88 831.69,522.51C833.71,533.14 833.46,530.23 835.49,543.39C837.51,556.55 837.51,556.67 839.28,571.86C841.05,587.05 840.86,580.85 842.13,600.33C843.40,619.82 843.52,633.05 844.03,644.94" stroke="#f99db4" stroke-width="4.8"/>
<path d="M540.37,644.94C540.37,630.52 540.37,619.95 540.37,590.84C540.37,561.74 539.76,551.99 540.37,535.79C540.98,519.60 541.13,533.14 542.65,530.10C544.17,527.06 544.14,527.69 546.07,524.40C547.99,521.11 547.84,520.29 549.86,517.76C551.89,515.23 551.74,514.66 553.66,514.91C555.58,515.17 555.46,515.17 557.08,518.71C558.70,522.25 558.22,521.62 559.73,528.20C561.25,534.78 561.10,535.29 562.77,543.39C564.44,551.49 564.38,552.75 566.00,558.57C567.62,564.39 567.48,564.20 568.85,565.22C570.21,566.23 569.86,564.14 571.12,562.37C572.39,560.60 572.17,558.07 573.59,558.57C575.01,559.08 574.92,560.22 576.44,564.27C577.96,568.32 577.51,566.67 579.29,573.76C581.06,580.85 581.06,582.74 583.08,590.84C585.11,598.94 584.85,598.31 586.88,604.13C588.90,609.95 588.90,609.38 590.68,612.67C592.45,615.96 592.00,615.46 593.52,616.47C595.04,617.48 594.85,617.73 596.37,616.47C597.89,615.20 597.70,613.75 599.22,611.72C600.74,609.70 600.65,607.86 602.07,608.88C603.48,609.89 603.17,610.96 604.53,615.52C605.90,620.08 605.57,621.40 607.19,625.96C608.81,630.52 608.94,630.58 610.61,632.60C612.28,634.63 611.94,634.57 613.45,633.55C614.97,632.54 614.94,630.58 616.30,628.81C617.67,627.04 617.06,626.40 618.58,626.91C620.10,627.42 620.07,628.93 622.00,630.71C623.92,632.48 623.26,633.30 625.79,633.55C628.32,633.81 628.45,631.66 631.49,631.66C634.53,631.66 629.08,633.05 637.18,633.55C645.28,634.06 647.19,633.55 661.86,633.55C676.53,633.55 684.10,633.55 692.19,633.55C700.29,633.55 684.11,633.55 692.21,633.55C700.30,633.55 707.87,633.55 722.54,633.55C737.21,633.55 739.12,634.06 747.22,633.55C755.32,633.05 749.87,631.66 752.91,631.66C755.95,631.66 756.08,633.81 758.61,633.55C761.14,633.30 760.48,632.48 762.40,630.71C764.33,628.93 764.30,627.42 765.82,626.91C767.34,626.40 766.73,627.04 768.10,628.81C769.46,630.58 769.43,632.54 770.95,633.55C772.46,634.57 772.12,634.63 773.79,632.60C775.46,630.58 775.59,630.52 777.21,625.96C778.83,621.40 778.50,620.08 779.87,615.52C781.23,610.96 780.92,609.89 782.33,608.88C783.75,607.86 783.66,609.70 785.18,611.72C786.70,613.75 786.51,615.20 788.03,616.47C789.55,617.73 789.36,617.48 790.88,616.47C792.40,615.46 791.95,615.96 793.72,612.67C795.50,609.38 795.50,609.95 797.52,604.13C799.55,598.31 799.29,598.94 801.32,590.84C803.34,582.74 803.34,580.85 805.11,573.76C806.89,566.67 806.44,568.32 807.96,564.27C809.48,560.22 809.39,559.08 810.81,558.57C812.23,558.07 812.01,560.60 813.28,562.37C814.54,564.14 814.19,566.23 815.55,565.22C816.92,564.20 816.78,564.39 818.40,558.57C820.02,552.75 819.96,551.49 821.63,543.39C823.30,535.29 823.15,534.78 824.67,528.20C826.18,521.62 825.70,522.25 827.32,518.71C828.94,515.17 828.82,515.17 830.74,514.91C832.66,514.66 832.51,515.23 834.54,517.76C836.56,520.29 836.41,521.11 838.33,524.40C840.26,527.69 840.23,527.06 841.75,530.10C843.27,533.14 843.42,519.60 844.03,535.79C844.64,551.99 844.03,561.74 844.03,590.84C844.03,619.95 844.03,630.52 844.03,644.94" stroke="#e2439b" stroke-width="4.8"/>
<path d="M540.37,644.94C540.47,630.52 540.50,614.38 540.75,590.84C541.00,567.30 540.66,564.52 541.32,556.67C541.98,548.83 541.95,559.65 543.22,561.42C544.48,563.19 544.30,562.31 546.07,563.32C547.84,564.33 548.09,562.94 549.86,565.22C551.64,567.49 551.19,568.06 552.71,571.86C554.23,575.66 554.04,575.40 555.56,579.45C557.08,583.50 556.89,583.25 558.41,587.05C559.92,590.84 559.73,590.15 561.25,593.69C562.77,597.23 562.58,597.80 564.10,600.33C565.62,602.87 565.43,602.68 566.95,603.18C568.47,603.69 568.53,604.51 569.79,602.23C571.06,599.95 570.83,597.42 571.69,594.64C572.55,591.86 572.26,589.77 573.02,591.79C573.78,593.82 573.63,596.41 574.54,602.23C575.45,608.05 575.17,608.05 576.44,613.62C577.70,619.19 577.77,620.08 579.29,623.11C580.80,626.15 580.36,625.26 582.13,625.01C583.91,624.76 583.91,623.18 585.93,622.16C587.95,621.15 587.70,619.44 589.73,621.21C591.75,622.99 591.50,625.52 593.52,628.81C595.55,632.10 595.29,634.31 597.32,633.55C599.34,632.79 599.50,628.74 601.12,625.96C602.74,623.18 602.13,622.35 603.39,623.11C604.66,623.87 604.19,626.02 605.86,628.81C607.53,631.59 606.87,632.64 609.66,633.55C612.44,634.46 612.51,632.22 616.30,632.22C620.10,632.22 611.75,633.20 623.90,633.55C636.04,633.91 643.65,633.55 661.86,633.55C680.07,633.55 684.10,633.55 692.19,633.55C700.29,633.55 684.11,633.55 692.21,633.55C700.30,633.55 704.33,633.55 722.54,633.55C740.75,633.55 748.36,633.91 760.50,633.55C772.65,633.20 764.30,632.22 768.10,632.22C771.89,632.22 771.96,634.46 774.74,633.55C777.53,632.64 776.87,631.59 778.54,628.81C780.21,626.02 779.74,623.87 781.01,623.11C782.27,622.35 781.66,623.18 783.28,625.96C784.90,628.74 785.06,632.79 787.08,633.55C789.11,634.31 788.85,632.10 790.88,628.81C792.90,625.52 792.65,622.99 794.67,621.21C796.70,619.44 796.45,621.15 798.47,622.16C800.49,623.18 800.49,624.76 802.27,625.01C804.04,625.26 803.60,626.15 805.11,623.11C806.63,620.08 806.70,619.19 807.96,613.62C809.23,608.05 808.95,608.05 809.86,602.23C810.77,596.41 810.62,593.82 811.38,591.79C812.14,589.77 811.85,591.86 812.71,594.64C813.57,597.42 813.34,599.95 814.61,602.23C815.87,604.51 815.93,603.69 817.45,603.18C818.97,602.68 818.78,602.87 820.30,600.33C821.82,597.80 821.63,597.23 823.15,593.69C824.67,590.15 824.48,590.84 825.99,587.05C827.51,583.25 827.32,583.50 828.84,579.45C830.36,575.40 830.17,575.66 831.69,571.86C833.21,568.06 832.76,567.49 834.54,565.22C836.31,562.94 836.56,564.33 838.33,563.32C840.10,562.31 839.92,563.19 841.18,561.42C842.45,559.65 842.42,548.83 843.08,556.67C843.74,564.52 843.40,567.30 843.65,590.84C843.90,614.38 843.93,630.52 844.03,644.94" stroke="#a3107d" stroke-width="4.8"/>
<path d="M540.37,644.94C540.47,635.58 540.50,630.58 540.75,609.83C541.00,589.07 540.81,574.20 541.32,567.11C541.83,560.03 541.64,574.39 542.65,583.25C543.66,592.11 543.70,592.23 545.12,600.33C546.54,608.43 546.45,609.17 547.97,613.62C549.48,618.08 549.19,617.04 550.81,617.04C552.43,617.04 552.37,616.30 554.04,613.62C555.71,610.94 555.41,611.28 557.08,606.98C558.75,602.68 558.94,596.73 560.30,597.49C561.67,598.25 561.19,601.47 562.20,609.83C563.21,618.18 563.24,619.44 564.10,628.81C564.96,638.17 564.06,640.64 565.43,644.94C566.80,649.25 567.81,651.27 569.23,644.94C570.64,638.62 569.83,633.11 570.74,621.21C571.66,609.32 571.73,602.87 572.64,600.33C573.55,597.80 573.30,605.40 574.16,611.72C575.02,618.05 574.76,619.25 575.87,624.06C576.98,628.87 576.92,627.99 578.34,629.76C579.75,631.53 579.41,631.72 581.18,630.71C582.96,629.69 582.70,628.09 584.98,625.96C587.26,623.83 587.70,621.47 589.73,622.73C591.75,624.00 591.31,626.05 592.57,630.71C593.84,635.36 593.46,637.41 594.47,640.20C595.48,642.98 595.11,643.68 596.37,641.15C597.64,638.62 597.45,636.02 599.22,630.71C600.99,625.39 601.24,622.23 603.01,621.21C604.79,620.20 604.09,623.11 605.86,626.91C607.63,630.71 607.63,633.93 609.66,635.45C611.68,636.97 611.18,634.12 613.45,632.60C615.73,631.09 615.92,629.76 618.20,629.76C620.48,629.76 619.97,631.24 622.00,632.60C624.02,633.97 623.77,634.88 625.79,634.88C627.82,634.88 627.57,633.72 629.59,632.60C631.61,631.49 631.11,630.71 633.39,630.71C635.66,630.71 635.60,631.85 638.13,632.60C640.66,633.36 640.09,633.65 642.88,633.55C645.66,633.45 645.54,632.22 648.57,632.22C651.61,632.22 648.19,633.20 654.27,633.55C660.34,633.91 661.24,633.55 671.35,633.55C681.47,633.55 686.63,633.55 692.19,633.55C697.76,633.55 686.64,633.55 692.21,633.55C697.77,633.55 702.93,633.55 713.05,633.55C723.16,633.55 724.06,633.91 730.13,633.55C736.21,633.20 732.79,632.22 735.83,632.22C738.86,632.22 738.74,633.45 741.52,633.55C744.31,633.65 743.74,633.36 746.27,632.60C748.80,631.85 748.74,630.71 751.01,630.71C753.29,630.71 752.79,631.49 754.81,632.60C756.83,633.72 756.58,634.88 758.61,634.88C760.63,634.88 760.38,633.97 762.40,632.60C764.43,631.24 763.92,629.76 766.20,629.76C768.48,629.76 768.67,631.09 770.95,632.60C773.22,634.12 772.72,636.97 774.74,635.45C776.77,633.93 776.77,630.71 778.54,626.91C780.31,623.11 779.61,620.20 781.39,621.21C783.16,622.23 783.41,625.39 785.18,630.71C786.95,636.02 786.76,638.62 788.03,641.15C789.29,643.68 788.92,642.98 789.93,640.20C790.94,637.41 790.56,635.36 791.83,630.71C793.09,626.05 792.65,624.00 794.67,622.73C796.70,621.47 797.14,623.83 799.42,625.96C801.70,628.09 801.44,629.69 803.22,630.71C804.99,631.72 804.65,631.53 806.06,629.76C807.48,627.99 807.42,628.87 808.53,624.06C809.64,619.25 809.38,618.05 810.24,611.72C811.10,605.40 810.85,597.80 811.76,600.33C812.67,602.87 812.74,609.32 813.66,621.21C814.57,633.11 813.76,638.62 815.17,644.94C816.59,651.27 817.60,649.25 818.97,644.94C820.34,640.64 819.44,638.17 820.30,628.81C821.16,619.44 821.19,618.18 822.20,609.83C823.21,601.47 822.73,598.25 824.10,597.49C825.46,596.73 825.65,602.68 827.32,606.98C828.99,611.28 828.69,610.94 830.36,613.62C832.03,616.30 831.97,617.04 833.59,617.04C835.21,617.04 834.92,618.08 836.43,613.62C837.95,609.17 837.86,608.43 839.28,600.33C840.70,592.23 840.74,592.11 841.75,583.25C842.76,574.39 842.57,560.03 843.08,567.11C843.59,574.20 843.40,589.07 843.65,609.83C843.90,630.58 843.93,635.58 844.03,644.94" stroke="#6a0b72" stroke-width="4.8"/>
</g>
<rect x="522.9" y="428.5" width="338.30000000000007" height="215.5" stroke="#000" stroke-width="2.95" fill="none"/>
<path d="M541.80,428.5L541.80,444.1M692.20,428.5L692.20,444.1M842.60,428.5L842.60,444.1M861.2,637.00L845.6,637.00M861.2,567.50L845.6,567.50M861.2,498.00L845.6,498.00M861.2,428.50L845.6,428.50" stroke="#000" stroke-width="2.5"/>
<path d="M861.2,643.74L851.9000000000001,643.74M861.2,640.18L851.9000000000001,640.18M861.2,616.08L851.9000000000001,616.08M861.2,603.84L851.9000000000001,603.84M861.2,595.16L851.9000000000001,595.16M861.2,588.42L851.9000000000001,588.42M861.2,582.92L851.9000000000001,582.92M861.2,578.27L851.9000000000001,578.27M861.2,574.24L851.9000000000001,574.24M861.2,570.68L851.9000000000001,570.68M861.2,546.58L851.9000000000001,546.58M861.2,534.34L851.9000000000001,534.34M861.2,525.66L851.9000000000001,525.66M861.2,518.92L851.9000000000001,518.92M861.2,513.42L851.9000000000001,513.42M861.2,508.77L851.9000000000001,508.77M861.2,504.74L851.9000000000001,504.74M861.2,501.18L851.9000000000001,501.18M861.2,477.08L851.9000000000001,477.08M861.2,464.84L851.9000000000001,464.84M861.2,456.16L851.9000000000001,456.16M861.2,449.42L851.9000000000001,449.42M861.2,443.92L851.9000000000001,443.92M861.2,439.27L851.9000000000001,439.27M861.2,435.24L851.9000000000001,435.24M861.2,431.68L851.9000000000001,431.68" stroke="#000" stroke-width="2.0"/>
<text x="541.80" y="408.70" font-size="41" text-anchor="middle" >−8</text>
<text x="692.20" y="408.70" font-size="41" text-anchor="middle" >0</text>
<text x="842.60" y="408.70" font-size="41" text-anchor="middle" >8</text>
<text x="871.00" y="652.00" font-size="41" text-anchor="start" >10<tspan font-size="28.70" dy="-14.76">0</tspan><tspan dy="14.76" font-size="41">&#8203;</tspan></text>
<text x="871.00" y="582.50" font-size="41" text-anchor="start" >10<tspan font-size="28.70" dy="-14.76">1</tspan><tspan dy="14.76" font-size="41">&#8203;</tspan></text>
<text x="871.00" y="513.00" font-size="41" text-anchor="start" >10<tspan font-size="28.70" dy="-14.76">2</tspan><tspan dy="14.76" font-size="41">&#8203;</tspan></text>
<text x="871.00" y="443.50" font-size="41" text-anchor="start" >10<tspan font-size="28.70" dy="-14.76">3</tspan><tspan dy="14.76" font-size="41">&#8203;</tspan></text>
<text x="693.20" y="366.20" font-size="45" text-anchor="middle" ><tspan font-style="italic">z</tspan>/<tspan font-style="italic">σ</tspan></text>
<text transform="translate(987.5,538.6) rotate(-90)" font-size="45" text-anchor="middle"><tspan font-style="italic">χ</tspan><tspan font-size="31.50" dy="7.20" font-style="italic">μ</tspan><tspan dy="-7.20" font-size="45">&#8203;</tspan>/<tspan font-style="italic">χ</tspan><tspan font-size="31.50" dy="7.20" font-style="italic">μ,&#8201;</tspan><tspan dy="-7.20" font-size="45">&#8203;</tspan><tspan font-size="31.50" dy="7.20">b</tspan><tspan dy="-7.20" font-size="45">&#8203;</tspan></text>
<text x="0.00" y="710.00" font-size="41" text-anchor="start" font-weight="bold">c</text>
<clipPath id="clipC"><rect x="150.4" y="700.5" width="710.8000000000001" height="538.0"/></clipPath>
<path d="M328.00,700.5L328.00,1238.5" stroke="#9c9c9c" stroke-width="1.2" stroke-dasharray="1.3,3.7" fill="none"/>
<path d="M505.60,700.5L505.60,1238.5" stroke="#9c9c9c" stroke-width="1.2" stroke-dasharray="1.3,3.7" fill="none"/>
<path d="M683.20,700.5L683.20,1238.5" stroke="#9c9c9c" stroke-width="1.2" stroke-dasharray="1.3,3.7" fill="none"/>
<path d="M150.4,1058.97L861.2,1058.97" stroke="#9c9c9c" stroke-width="1.2" stroke-dasharray="1.3,3.7" fill="none"/>
<path d="M150.4,879.54L861.2,879.54" stroke="#9c9c9c" stroke-width="1.2" stroke-dasharray="1.3,3.7" fill="none"/>
<path d="M328.00,1238.5L328.00,1222.9M505.60,1238.5L505.60,1222.9M683.20,1238.5L683.20,1222.9M150.4,1058.97L166.0,1058.97M150.4,879.54L166.0,879.54" stroke="#000" stroke-width="2.5"/>
<g clip-path="url(#clipC)"><path d="M150.40,759.92L158.53,760.16L166.65,760.87L174.78,762.03L182.91,763.62L191.04,765.62L199.16,767.98L207.29,770.68L215.42,773.67L223.55,776.93L231.67,780.43L239.80,784.14L247.93,788.04L256.06,792.11L264.18,796.32L272.31,800.68L280.44,805.15L288.57,809.74L296.69,814.43L304.82,819.22L312.95,824.10L321.08,829.07L329.20,834.12L337.33,839.25L345.46,844.45L353.59,849.74L361.71,855.09L369.84,860.52L377.97,866.02L386.10,871.60L394.22,877.26L402.35,882.99L410.48,888.80L418.61,894.69L426.73,900.66L434.86,906.73L442.99,912.88L451.12,919.13L459.24,925.49L467.37,931.94L475.50,938.51L483.63,945.20L491.75,952.02L499.88,958.97L508.01,966.07L516.14,973.32L524.26,980.75L532.39,988.36L540.52,996.18L548.65,1004.22L556.77,1012.50L564.90,1021.06L573.03,1029.93L581.16,1039.16L589.28,1048.78L597.41,1058.87L605.54,1069.52L613.67,1080.82L621.79,1092.94L629.92,1106.11L629.92,1106.11L630.42,1106.96L630.92,1107.81L631.42,1108.67L631.92,1109.54L632.42,1110.41L632.91,1111.29L633.41,1112.17L633.91,1113.06L634.41,1113.95L634.91,1114.85L635.41,1115.76L635.91,1116.67L636.41,1117.59L636.91,1118.52L637.41,1119.46L637.91,1120.40L638.40,1121.35L638.90,1122.30L639.40,1123.27L639.90,1124.24L640.40,1125.22L640.90,1126.20L641.40,1127.20L641.90,1128.21L642.40,1129.22L642.90,1130.24L643.40,1131.28L643.89,1132.32L644.39,1133.37L644.89,1134.43L645.39,1135.51L645.89,1136.59L646.39,1137.69L646.89,1138.80L647.39,1139.92L647.89,1141.05L648.39,1142.19L648.88,1143.35L649.38,1144.53L649.88,1145.71L650.38,1146.92L650.88,1148.13L651.38,1149.37L651.88,1150.62L652.38,1151.89L652.88,1153.18L653.38,1154.48L653.88,1155.81L654.37,1157.16L654.87,1158.53L655.37,1159.93L655.87,1161.35L656.37,1162.79L656.87,1164.27L657.37,1165.77L657.87,1167.30L658.37,1168.87L658.87,1170.47L659.37,1172.12L659.86,1173.80L660.36,1175.53L660.86,1177.30L661.36,1179.13L661.86,1181.02L662.36,1182.97L662.86,1184.99L663.36,1187.09L663.86,1189.27L664.36,1191.56L664.86,1193.97L665.35,1196.51L665.85,1199.22L666.35,1202.13L666.85,1205.29L667.35,1208.79L667.85,1212.76L668.35,1217.47L668.85,1223.60L669.35,1238.40" fill="none" stroke="#00bfff" stroke-width="5.2" stroke-dasharray="17.8,7.2" stroke-dashoffset="-2.6"/>
<circle cx="150.90" cy="760.80" r="8.2" fill="#fef0ec" stroke="#4a0069" stroke-width="3.4"/>
<circle cx="166.89" cy="760.80" r="8.2" fill="#feece9" stroke="#4a0069" stroke-width="3.4"/>
<circle cx="182.88" cy="761.60" r="8.2" fill="#fee9e5" stroke="#4a0069" stroke-width="3.4"/>
<circle cx="198.87" cy="762.90" r="8.2" fill="#fde5e2" stroke="#4a0069" stroke-width="3.4"/>
<circle cx="214.86" cy="764.70" r="8.2" fill="#fde2df" stroke="#4a0069" stroke-width="3.4"/>
<circle cx="230.85" cy="767.30" r="8.2" fill="#fddedb" stroke="#4a0069" stroke-width="3.4"/>
<circle cx="246.84" cy="771.20" r="8.2" fill="#fddad7" stroke="#4a0069" stroke-width="3.4"/>
<circle cx="262.83" cy="775.80" r="8.2" fill="#fdd6d3" stroke="#4a0069" stroke-width="3.4"/>
<circle cx="278.82" cy="782.90" r="8.2" fill="#fcd2ce" stroke="#4a0069" stroke-width="3.4"/>
<circle cx="294.81" cy="794.00" r="8.2" fill="#fcceca" stroke="#4a0069" stroke-width="3.4"/>
<circle cx="310.80" cy="811.40" r="8.2" fill="#fccac6" stroke="#4a0069" stroke-width="3.4"/>
<circle cx="326.79" cy="834.00" r="8.2" fill="#fcc6c2" stroke="#4a0069" stroke-width="3.4"/>
<circle cx="342.78" cy="854.30" r="8.2" fill="#fcc1bf" stroke="#4a0069" stroke-width="3.4"/>
<circle cx="358.77" cy="867.80" r="8.2" fill="#fcbcbd" stroke="#4a0069" stroke-width="3.4"/>
<circle cx="374.76" cy="877.70" r="8.2" fill="#fbb6bc" stroke="#4a0069" stroke-width="3.4"/>
<circle cx="390.75" cy="887.40" r="8.2" fill="#fbb0ba" stroke="#4a0069" stroke-width="3.4"/>
<circle cx="406.74" cy="898.40" r="8.2" fill="#fbabb8" stroke="#4a0069" stroke-width="3.4"/>
<circle cx="422.73" cy="910.60" r="8.2" fill="#faa5b7" stroke="#4a0069" stroke-width="3.4"/>
<circle cx="438.72" cy="929.60" r="8.2" fill="#faa0b5" stroke="#4a0069" stroke-width="3.4"/>
<circle cx="454.71" cy="944.40" r="8.2" fill="#fa98b2" stroke="#4a0069" stroke-width="3.4"/>
<circle cx="470.70" cy="951.20" r="8.2" fill="#f990af" stroke="#4a0069" stroke-width="3.4"/>
<circle cx="486.69" cy="964.70" r="8.2" fill="#f987ac" stroke="#4a0069" stroke-width="3.4"/>
<circle cx="502.68" cy="978.20" r="8.2" fill="#f87fa9" stroke="#4a0069" stroke-width="3.4"/>
<circle cx="518.67" cy="993.20" r="8.2" fill="#f877a7" stroke="#4a0069" stroke-width="3.4"/>
<circle cx="534.66" cy="1008.30" r="8.2" fill="#f76fa4" stroke="#4a0069" stroke-width="3.4"/>
<circle cx="550.65" cy="1023.90" r="8.2" fill="#f667a1" stroke="#4a0069" stroke-width="3.4"/>
<circle cx="566.64" cy="1040.00" r="8.2" fill="#f35f9f" stroke="#4a0069" stroke-width="3.4"/>
<circle cx="582.63" cy="1059.20" r="8.2" fill="#ef589e" stroke="#4a0069" stroke-width="3.4"/>
<circle cx="598.62" cy="1079.20" r="8.2" fill="#eb509c" stroke="#4a0069" stroke-width="3.4"/>
<circle cx="614.61" cy="1102.10" r="8.2" fill="#e7489b" stroke="#4a0069" stroke-width="3.4"/>
<circle cx="630.60" cy="1129.10" r="8.2" fill="#e34099" stroke="#4a0069" stroke-width="3.4"/>
<circle cx="646.59" cy="1166.20" r="8.2" fill="#df3998" stroke="#4a0069" stroke-width="3.4"/>
<circle cx="662.58" cy="1237.60" r="8.2" fill="#da3196" stroke="#4a0069" stroke-width="3.4"/>
<circle cx="678.57" cy="1237.60" r="8.2" fill="#d32a92" stroke="#4a0069" stroke-width="3.4"/>
<circle cx="694.56" cy="1237.60" r="8.2" fill="#cc228e" stroke="#4a0069" stroke-width="3.4"/>
<circle cx="710.55" cy="1237.60" r="8.2" fill="#c61a8a" stroke="#4a0069" stroke-width="3.4"/>
<circle cx="726.54" cy="1237.60" r="8.2" fill="#bf1387" stroke="#4a0069" stroke-width="3.4"/>
<circle cx="742.53" cy="1237.60" r="8.2" fill="#b80b83" stroke="#4a0069" stroke-width="3.4"/>
<circle cx="758.52" cy="1237.60" r="8.2" fill="#b1047f" stroke="#4a0069" stroke-width="3.4"/>
<circle cx="774.51" cy="1237.60" r="8.2" fill="#a9017d" stroke="#4a0069" stroke-width="3.4"/>
<circle cx="790.50" cy="1237.60" r="8.2" fill="#a2017c" stroke="#4a0069" stroke-width="3.4"/>
<circle cx="806.49" cy="1237.60" r="8.2" fill="#9a017b" stroke="#4a0069" stroke-width="3.4"/>
<circle cx="822.48" cy="1237.60" r="8.2" fill="#92017a" stroke="#4a0069" stroke-width="3.4"/>
<circle cx="838.47" cy="1237.60" r="8.2" fill="#8a0179" stroke="#4a0069" stroke-width="3.4"/>
<circle cx="854.46" cy="1237.60" r="8.2" fill="#830178" stroke="#4a0069" stroke-width="3.4"/>
</g>
<defs><radialGradient id="gd1" cx="0.5" cy="0.45" r="0.55"><stop offset="0" stop-color="#c7f5fe"/><stop offset="0.55" stop-color="#c0f3fd"/><stop offset="0.8" stop-color="#b3eefc"/><stop offset="1" stop-color="#aeecfb"/></radialGradient>
<radialGradient id="gd2" cx="0.45" cy="0.6" r="0.6"><stop offset="0" stop-color="#c9f5fe"/><stop offset="1" stop-color="#b0edfb"/></radialGradient></defs>
<clipPath id="clipD1"><rect x="150" y="790" width="200" height="133"/></clipPath>
<circle cx="239.5" cy="872.2" r="57" fill="url(#gd1)" stroke="#0b85a8" stroke-width="3" clip-path="url(#clipD1)"/>
<rect x="158.7" y="922.9" width="161.8" height="18.1" fill="#999999" stroke="#111" stroke-width="2.3"/>
<rect x="164.80" y="930.4" width="12.8" height="9.40" fill="#e9aedd" stroke="#dc8fd0" stroke-width="0.9"/>
<rect x="184.40" y="930.4" width="12.8" height="9.40" fill="#8aabe0" stroke="#4d8df0" stroke-width="0.9"/>
<rect x="204.00" y="930.4" width="12.8" height="9.40" fill="#e9aedd" stroke="#dc8fd0" stroke-width="0.9"/>
<rect x="223.60" y="930.4" width="12.8" height="9.40" fill="#8aabe0" stroke="#4d8df0" stroke-width="0.9"/>
<rect x="243.20" y="930.4" width="12.8" height="9.40" fill="#e9aedd" stroke="#dc8fd0" stroke-width="0.9"/>
<rect x="262.80" y="930.4" width="12.8" height="9.40" fill="#8aabe0" stroke="#4d8df0" stroke-width="0.9"/>
<rect x="282.40" y="930.4" width="12.8" height="9.40" fill="#e9aedd" stroke="#dc8fd0" stroke-width="0.9"/>
<rect x="302.00" y="930.4" width="12.8" height="9.40" fill="#8aabe0" stroke="#4d8df0" stroke-width="0.9"/>
<path d="M257,922.5 C262,913 272,908.5 283,909 C288,909.3 293,910.5 296,911.5" fill="none" stroke="#000" stroke-width="1.9"/>
<path d="M275.00,922.90L348.60,882.60M335.83,882.18L348.60,882.60L342.07,893.58" stroke="#000" stroke-width="2.7" fill="none" stroke-linejoin="miter" stroke-linecap="butt"/>
<text x="269.50" y="907.50" font-size="25" text-anchor="middle" font-style="italic">θ</text>
<path d="M402.2,1111.7 A149.5,149.5 0 0 1 566.5,1111.7 Z" fill="url(#gd2)" stroke="none"/>
<ellipse cx="474" cy="1099" rx="34" ry="6.5" fill="#cdf6fe" opacity="0.8"/>
<path d="M402.2,1111.7 A149.5,149.5 0 0 1 566.5,1111.7" fill="none" stroke="#0b85a8" stroke-width="3"/>
<rect x="393" y="1111.7" width="179.7" height="18.4" fill="#999999" stroke="#111" stroke-width="2.3"/>
<rect x="408.00" y="1119.3" width="13.1" height="9.30" fill="#e9aedd" stroke="#dc8fd0" stroke-width="0.9"/>
<rect x="427.65" y="1119.3" width="13.1" height="9.30" fill="#8aabe0" stroke="#4d8df0" stroke-width="0.9"/>
<rect x="447.30" y="1119.3" width="13.1" height="9.30" fill="#e9aedd" stroke="#dc8fd0" stroke-width="0.9"/>
<rect x="466.95" y="1119.3" width="13.1" height="9.30" fill="#8aabe0" stroke="#4d8df0" stroke-width="0.9"/>
<rect x="486.60" y="1119.3" width="13.1" height="9.30" fill="#e9aedd" stroke="#dc8fd0" stroke-width="0.9"/>
<rect x="506.25" y="1119.3" width="13.1" height="9.30" fill="#8aabe0" stroke="#4d8df0" stroke-width="0.9"/>
<rect x="525.90" y="1119.3" width="13.1" height="9.30" fill="#e9aedd" stroke="#dc8fd0" stroke-width="0.9"/>
<rect x="545.55" y="1119.3" width="13.1" height="9.30" fill="#8aabe0" stroke="#4d8df0" stroke-width="0.9"/>
<path d="M566.50,1111.70L498.70,1064.10M503.97,1075.74L498.70,1064.10L511.44,1065.10" stroke="#000" stroke-width="2.7" fill="none" stroke-linejoin="miter" stroke-linecap="butt"/>
<path d="M536.6,1111 C534.5,1105 536,1098 540.5,1093.5" fill="none" stroke="#000" stroke-width="1.9"/>
<text x="527.60" y="1110.00" font-size="23" text-anchor="middle" font-style="italic">θ</text>
<rect x="150.4" y="700.5" width="710.8000000000001" height="538.0" stroke="#000" stroke-width="2.95" fill="none"/>
<text x="150.40" y="1280.50" font-size="41" text-anchor="middle" >0</text>
<text x="328.00" y="1280.50" font-size="41" text-anchor="middle" >10</text>
<text x="505.60" y="1280.50" font-size="41" text-anchor="middle" >20</text>
<text x="683.20" y="1280.50" font-size="41" text-anchor="middle" >30</text>
<text x="860.80" y="1280.50" font-size="41" text-anchor="middle" >40</text>
<text x="140.20" y="1253.90" font-size="41" text-anchor="end" >0</text>
<text x="140.20" y="1074.47" font-size="41" text-anchor="end" >60</text>
<text x="140.20" y="895.04" font-size="41" text-anchor="end" >120</text>
<text x="140.20" y="715.61" font-size="41" text-anchor="end" >180</text>
<text x="505.60" y="1334.50" font-size="45" text-anchor="middle" ><tspan font-style="italic">ϕ</tspan><tspan font-size="31.50" dy="7.20">0</tspan><tspan dy="-7.20" font-size="45">&#8203;</tspan><tspan dx="6">[V]</tspan></text>
<text transform="translate(41,970) rotate(-90)" font-size="45" text-anchor="middle"><tspan font-style="italic">θ</tspan><tspan dx="6">[°]</tspan></text>
<path d="M178.2,1191.1L241.1,1191.1" stroke="#00bfff" stroke-width="5.2" stroke-dasharray="17.8,7.2" fill="none"/>
<text x="267.50" y="1201.50" font-size="31" text-anchor="start" >cos<tspan font-style="italic">θ</tspan><tspan dx="6">∝</tspan><tspan dx="6" font-style="italic">ϕ</tspan><tspan font-size="21.7" dy="-12.5">2</tspan><tspan font-size="21.7" dy="20" dx="-13.8">0</tspan></text>
<rect x="635.6" y="716.6" width="212.89999999999998" height="215.69999999999993" fill="#fff"/>
<path d="M635.6,896.1L848.5,896.1" stroke="#9c9c9c" stroke-width="1.2" stroke-dasharray="1.3,3.7" fill="none"/>
<clipPath id="clipI"><rect x="635.6" y="716.6" width="212.89999999999998" height="215.69999999999993"/></clipPath>
<g clip-path="url(#clipI)">
<path d="M635.6,717.1L850.5,924.05" stroke="#00bfff" stroke-width="5.2" stroke-dasharray="17.8,7.2" fill="none"/>
<circle cx="635.60" cy="716.60" r="4.9" fill="#fde1de" stroke="#4b0a6b" stroke-width="1.7"/>
<circle cx="635.95" cy="716.94" r="4.9" fill="#fddad7" stroke="#4b0a6b" stroke-width="1.7"/>
<circle cx="636.98" cy="717.98" r="4.9" fill="#fdd3cf" stroke="#4b0a6b" stroke-width="1.7"/>
<circle cx="638.71" cy="719.70" r="4.9" fill="#fcccc8" stroke="#4b0a6b" stroke-width="1.7"/>
<circle cx="641.13" cy="722.11" r="4.9" fill="#fcc5c0" stroke="#4b0a6b" stroke-width="1.7"/>
<circle cx="644.23" cy="725.21" r="4.9" fill="#fcbcbd" stroke="#4b0a6b" stroke-width="1.7"/>
<circle cx="648.03" cy="729.00" r="4.9" fill="#fbb2bb" stroke="#4b0a6b" stroke-width="1.7"/>
<circle cx="652.52" cy="733.47" r="4.9" fill="#faa8b8" stroke="#4b0a6b" stroke-width="1.7"/>
<circle cx="657.70" cy="738.62" r="4.9" fill="#fa9fb5" stroke="#4b0a6b" stroke-width="1.7"/>
<circle cx="663.57" cy="744.44" r="4.9" fill="#f990b0" stroke="#4b0a6b" stroke-width="1.7"/>
<circle cx="670.13" cy="750.95" r="4.9" fill="#f882ab" stroke="#4b0a6b" stroke-width="1.7"/>
<circle cx="677.39" cy="758.13" r="4.9" fill="#f874a5" stroke="#4b0a6b" stroke-width="1.7"/>
<circle cx="685.33" cy="765.97" r="4.9" fill="#f666a1" stroke="#4b0a6b" stroke-width="1.7"/>
<circle cx="693.96" cy="774.49" r="4.9" fill="#f0599e" stroke="#4b0a6b" stroke-width="1.7"/>
<circle cx="703.29" cy="783.66" r="4.9" fill="#e94c9c" stroke="#4b0a6b" stroke-width="1.7"/>
<circle cx="713.30" cy="793.49" r="4.9" fill="#e23e99" stroke="#4b0a6b" stroke-width="1.7"/>
<circle cx="724.01" cy="803.98" r="4.9" fill="#da3196" stroke="#4b0a6b" stroke-width="1.7"/>
<circle cx="735.40" cy="815.11" r="4.9" fill="#ce248f" stroke="#4b0a6b" stroke-width="1.7"/>
<circle cx="747.49" cy="826.88" r="4.9" fill="#c21789" stroke="#4b0a6b" stroke-width="1.7"/>
<circle cx="760.27" cy="839.28" r="4.9" fill="#b60a82" stroke="#4b0a6b" stroke-width="1.7"/>
<circle cx="773.73" cy="852.32" r="4.9" fill="#aa017d" stroke="#4b0a6b" stroke-width="1.7"/>
<circle cx="787.89" cy="865.98" r="4.9" fill="#9d017c" stroke="#4b0a6b" stroke-width="1.7"/>
<circle cx="802.74" cy="880.26" r="4.9" fill="#8f017a" stroke="#4b0a6b" stroke-width="1.7"/>
<circle cx="818.28" cy="895.14" r="4.9" fill="#820178" stroke="#4b0a6b" stroke-width="1.7"/>
<circle cx="834.51" cy="910.62" r="4.9" fill="#750176" stroke="#4b0a6b" stroke-width="1.7"/>
<circle cx="851.43" cy="926.70" r="4.9" fill="#680172" stroke="#4b0a6b" stroke-width="1.7"/>
</g>
<rect x="635.6" y="716.6" width="212.89999999999998" height="215.69999999999993" stroke="#000" stroke-width="2.95" fill="none"/>
<path d="M848.5,896.1L832.5,896.1" stroke="#000" stroke-width="2.5"/>
<text x="863.40" y="729.40" font-size="35" text-anchor="start" >0.0</text>
<text x="858.60" y="908.90" font-size="35" text-anchor="start" >−0.1</text>
<text x="635.60" y="969.30" font-size="35" text-anchor="middle" >0</text>
<text x="802.10" y="969.30" font-size="35" text-anchor="start" >40<tspan font-size="21" dy="-13.5">2</tspan></text>
<text x="742.70" y="1022.10" font-size="38" text-anchor="middle" ><tspan font-style="italic">ϕ</tspan><tspan font-size="26.6" dy="-15.5">2</tspan><tspan font-size="26.6" dy="25" dx="-17">0</tspan><tspan dy="-9.5" dx="9">[V</tspan><tspan font-size="26.60" dy="-13.68">2</tspan><tspan dy="13.68" font-size="38">&#8203;</tspan>]</text>
<text transform="translate(989.5,824) rotate(-90)" font-size="37" text-anchor="middle"><tspan font-style="italic">γ</tspan><tspan font-size="25.90" dy="5.92">elec</tspan><tspan dy="-5.92" font-size="37">&#8203;</tspan><tspan dx="5">[J m</tspan><tspan font-size="25.90" dy="-13.32">−2</tspan><tspan dy="13.32" font-size="37">&#8203;</tspan>]</text>
</svg>
</body></html>
